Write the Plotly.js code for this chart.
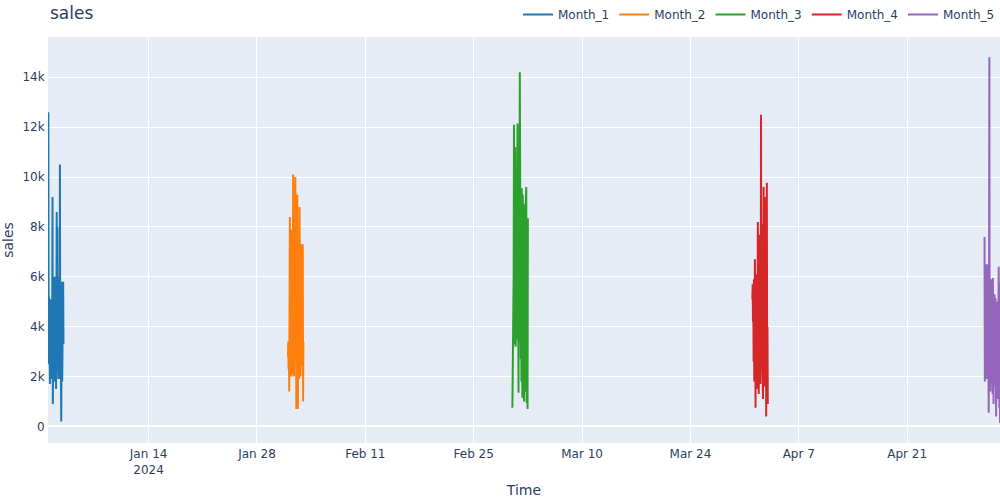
<!DOCTYPE html>
<html>
<head>
<meta charset="utf-8">
<script src="https://cdn.plot.ly/plotly-3.0.1.min.js"></script>
<style>
  html, body { margin: 0; padding: 0; background: #fff; }
  #chart { width: 1000px; height: 500px; }
</style>
</head>
<body>
<div id="chart"></div>
<script>
// Series names and the first day of each burst (hourly readings)
const seriesNames = ['Month_1', 'Month_2', 'Month_3', 'Month_4', 'Month_5'];
const monthStarts = ['2024-01-01', '2024-02-01', '2024-03-01', '2024-04-01', '2024-05-01'];
const colors = ['#1f77b4', '#ff7f0e', '#2ca02c', '#d62728', '#9467bd'];

// Hourly sales
const month1 = [2500, 12600, 3700, 5200, 2900, 4700, 1700, 4000, 2300, 5100,
    1900, 3600, 2400, 4300, 9200, 900, 4500, 1300, 5600, 2100,
    6000, 1800, 5300, 2600, 4800, 1500, 6100, 8600, 2200, 8000,
    3100, 5900, 1900, 4700, 2400, 6000, 3200, 10500, 1900, 5400,
    2600, 200, 4600, 5800, 1800, 5700, 2300, 5800, 3300];
const month2 = [2800, 3400, 2300, 3300, 1400, 3800, 8400, 2000, 5200, 2100,
    7900, 2000, 4600, 2400, 6800, 2100, 10100, 3000, 8200, 2000,
    6200, 4100, 2600, 10000, 3500, 7600, 700, 5400, 2300, 9300,
    3800, 700, 6500, 2200, 7200, 1900, 8800, 2600, 6100, 2000,
    5500, 3100, 7300, 2400, 7200, 3600, 7300, 1000, 3400];
const month3 = [750, 2300, 2600, 3100, 6200, 12100, 3300, 9800, 3600, 11200,
    3200, 8700, 4100, 10400, 3500, 7900, 12150, 3000, 9300, 1350,
    8600, 3400, 7200, 14200, 3100, 11000, 2700, 9400, 1800, 9550,
    3900, 1150, 9300, 2600, 7800, 4300, 1000, 8900, 2100, 7400,
    1400, 8800, 3200, 9600, 950, 6800, 2500, 700, 8350];
const month4 = [5100, 5700, 4200, 5400, 2600, 5900, 1800, 4900, 6700, 2100,
    750, 5300, 1600, 6100, 2400, 4700, 1500, 8200, 3300, 6400,
    1300, 5800, 7700, 2000, 6900, 1700, 4600, 12500, 2300, 8100,
    3600, 6200, 1900, 1100, 7400, 9600, 2800, 6800, 1600, 5200,
    9200, 2100, 6300, 400, 5100, 9770, 1500, 4000, 900];
const month5 = [7600, 1800, 7500, 2600, 6400, 3100, 6500, 1900, 5200, 2800,
    6500, 3400, 4100, 550, 4800, 14800, 2300, 5300, 1400, 4600,
    2900, 1700, 5900, 2200, 4400, 1300, 5950, 2600, 900, 4800,
    2000, 5300, 1600, 3900, 5150, 2400, 400, 4700, 1800, 5000,
    2600, 3700, 1100, 4200, 6400, 2100, 750, 5750, 150];

const seriesValues = [month1, month2, month3, month4, month5];

// hourly timestamps starting at the given day
function hourlyTimes(start, count) {
    const t0 = Date.parse(start + 'T00:00:00Z');
    const out = [];
    for (let h = 0; h < count; h++) {
        out.push(new Date(t0 + h * 3600e3).toISOString().slice(0, 19).replace('T', ' '));
    }
    return out;
}

const traces = seriesNames.map((name, k) => ({
    type: 'scatter',
    mode: 'lines',
    name: name,
    x: hourlyTimes(monthStarts[k], seriesValues[k].length),
    y: seriesValues[k],
    line: { color: colors[k], width: 2 }
}));

const layout = {
    width: 1000,
    height: 500,
    margin: { l: 48, r: 0, t: 37, b: 57 },
    paper_bgcolor: '#ffffff',
    plot_bgcolor: '#E5ECF6',
    font: { family: '"DejaVu Sans", verdana, arial, sans-serif', size: 12, color: '#2a3f5f' },
    title: { text: 'sales', x: 0.05, xanchor: 'left', font: { size: 17 } },
    showlegend: true,
    legend: { orientation: 'h', x: 1, xanchor: 'right', y: 1.02, yanchor: 'bottom', title: { text: '' } },
    xaxis: {
        type: 'date',
        title: { text: 'Time' },
        gridcolor: 'white',
        linecolor: 'white',
        zeroline: false,
        ticks: ''
    },
    yaxis: {
        title: { text: 'sales' },
        gridcolor: 'white',
        zerolinecolor: 'white',
        zerolinewidth: 2,
        linecolor: 'white',
        ticks: ''
    }
};

document.addEventListener('DOMContentLoaded', () => {
    Plotly.newPlot('chart', traces, layout, { displayModeBar: false });
});
</script>
</body>
</html>
